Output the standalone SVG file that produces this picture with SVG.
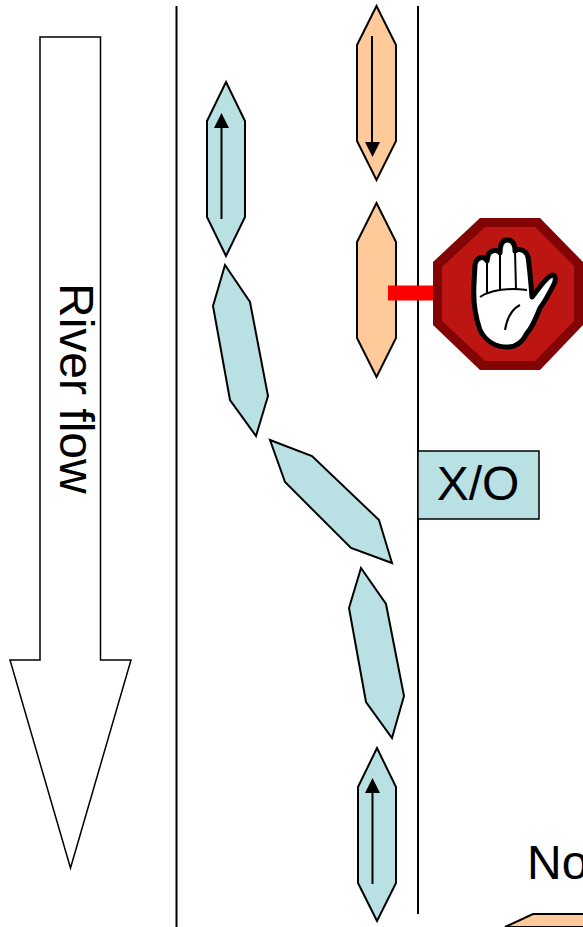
<svg xmlns="http://www.w3.org/2000/svg" width="583" height="927" viewBox="0 0 583 927">
<style>
.ln{stroke:#000;stroke-width:2;fill:none}
.b{fill:#b9e0e3;stroke:#000;stroke-width:2;stroke-linejoin:miter}
.o{fill:#ffca99;stroke:#000;stroke-width:2}
.t{font-family:"Liberation Sans",Arial,sans-serif;font-size:48px;fill:#000}
.a{stroke:#000;stroke-width:2;fill:none}
</style>
<rect width="583" height="927" fill="#fff"/>
<g id="river-flow">
<polygon points="40,37 100.500,37 100.500,660 131,660 70.500,868 10,660 40,660" fill="#fff" stroke="#000" stroke-width="1.500"/>
<text class="t" transform="translate(59.500,283) rotate(90)">River flow</text>
</g>
<g id="boat-orange-1">
<polygon class="o" points="376.500,6 396,45 396,141 376.500,180 357,141 357,45"/>
<line class="a" x1="372" y1="36" x2="372" y2="145"/>
<polygon points="365,142 380,142 372.500,157" fill="#000"/>
</g>
<g id="boat-blue-1">
<polygon class="b" points="226,82 245,121 245,217 226,256 207,217 207,121"/>
<line class="a" x1="221.500" y1="219" x2="221.500" y2="125"/>
<polygon points="214,128 229,128 221.500,113" fill="#000"/>
</g>
<g id="boat-orange-2">
<polygon class="o" points="376.500,203 396,242 396,338 376.500,377 357,338 357,242"/>
</g>
<g id="boat-blue-2">
<polygon class="b" points="225,265 250,302 268,396 256,436 230,400 213,306"/>
</g>
<g id="boat-blue-3">
<polygon class="b" points="270,440 312,456 379,520 392,563 351,548 285,482"/>
</g>
<g id="boat-blue-4">
<polygon class="b" points="361,568 386,604 404,696 392,738 366,702 349,608"/>
</g>
<g id="boat-blue-5">
<polygon class="b" points="377,748 396,787 396,883 377,921 358,883 358,787"/>
<line class="a" x1="372.500" y1="884" x2="372.500" y2="790"/>
<polygon points="365,793 380,793 372.500,778" fill="#000"/>
</g>
<g id="connectors">
<line class="ln" x1="176.500" y1="6" x2="176.500" y2="927"/>
<line class="ln" x1="418" y1="6" x2="418" y2="914"/>
<line x1="388" y1="293" x2="436" y2="293" stroke="#f00" stroke-width="15"/>
</g>
<g id="stop-sign">
<polygon points="480,218 540,218 583,262 583,325 540,370 480,370 433,325 433,262" fill="#830404"/>
<polygon points="485,227 535,227 574,266 574,321 535,361 485,361 442,321 442,267" fill="#bd1512"/>
<path d="M480,330 C475,316 473,300 474,284 L475,265 C476,257 484,255 487,261 L488,256 C489,250 497,249 500,253 C500,244 503,240 507,240 C513,240 515,245 515,251 C519,248 526,250 528,257 C530,270 531,285 532,297 C538,290 545,278 552,275 C556,275 556,280 554,284 C548,296 543,304 540,308 C536,318 532,328 527,333 C522,343 516,347 508,347 C497,347 486,342 480,330 Z" fill="#fff" stroke="#000" stroke-width="5" stroke-linejoin="round"/>
<path d="M487,261 L487,293 M500,253 L500,289 M515,251 L516,289 M480,297 C488,292 502,287 527,290 M505,330 C507,318 512,309 520,305" fill="none" stroke="#000" stroke-width="2"/>
</g>
<g id="xo">
<rect x="418" y="451" width="121" height="68" fill="#b9e0e3" stroke="#000" stroke-width="1.500"/>
<text class="t" x="478" y="500" text-anchor="middle">X/O</text>
</g>
<g id="no-label">
<text class="t" x="527" y="879">No</text>
</g>
<g id="boat-orange-3">
<polygon class="o" points="505,927 533,914 600,914 600,927"/>
</g>
</svg>
